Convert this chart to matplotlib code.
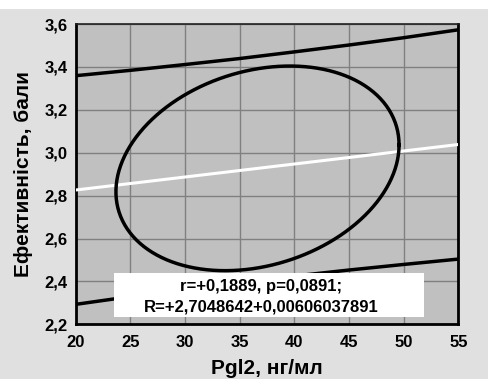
import numpy as np
import matplotlib
matplotlib.use("Agg")
import matplotlib.pyplot as plt
from matplotlib.patches import Rectangle

# Data
x_ticks = [20, 25, 30, 35, 40, 45, 50, 55]
y_ticks = [2.2, 2.4, 2.6, 2.8, 3.0, 3.2, 3.4, 3.6]
intercept = 2.7048642
slope = 0.00606037891
band_x = [20, 25, 30, 35, 40, 45, 50, 55]
band_upper = [3.359, 3.384, 3.411, 3.439, 3.470, 3.502, 3.536, 3.573]
band_lower = [2.293, 2.329, 2.363, 2.395, 2.425, 2.453, 2.479, 2.504]
ell_center = (36.63, 2.927)
ell_half = (12.95, 0.477)
ell_phase = 1.340  # radians, shift between x and y cosine
stats_text = "r=+0,1889, p=0,0891;\nR=+2,7048642+0,00606037891"

plt.rcParams['font.family'] = ['Liberation Sans', 'DejaVu Sans']
plt.rcParams['font.weight'] = 'bold'

W, H = 488, 379
fig = plt.figure(figsize=(W/100, H/100), dpi=100, facecolor='#e0e0e0')
fig.patches.append(Rectangle((0, 1 - 9/H), 1, 9/H, transform=fig.transFigure,
                             facecolor='white', edgecolor='none', zorder=0))
ax = fig.add_axes([75.7/W, 1 - 324.3/H, (458.3-75.7)/W, (324.3-24)/H])
ax.set_facecolor('#c0c0c0')
ax.set_xlim(20, 55)
ax.set_ylim(2.2, 3.6)
ax.set_xticks(x_ticks)
ax.set_yticks(y_ticks)
ax.set_xticklabels([str(v) for v in x_ticks])
ax.set_yticklabels([f"{v:.1f}".replace('.', ',') for v in y_ticks])
ax.tick_params(length=0, labelsize=12)
ax.tick_params(axis='x', pad=8)
ax.tick_params(axis='y', pad=6)
for lab in ax.get_xticklabels() + ax.get_yticklabels():
    lab.set_fontweight('bold')
ax.grid(True, color='#808080', linewidth=1)
ax.set_axisbelow(True)
for s in ['left', 'bottom', 'right']:
    ax.spines[s].set_linewidth(2)
    ax.spines[s].set_color('black')
ax.spines['top'].set_linewidth(1.2)
ax.spines['top'].set_color('#202020')

xs = np.array([20, 55])
ax.plot(xs, intercept + slope * xs, color='white', lw=2.2, zorder=3)
ax.plot(band_x, band_upper, color='black', lw=2.5, zorder=3)
ax.plot(band_x, band_lower, color='black', lw=2.5, zorder=3)

t = np.linspace(0, 2*np.pi, 400)
ex = ell_center[0] + ell_half[0]*np.cos(t)
ey = ell_center[1] + ell_half[1]*np.cos(t + ell_phase)
ax.plot(ex, ey, color='black', lw=2.5, zorder=3)

# text box
bx0, bx1 = 114, 424
by0, by1 = 273, 316.7
ax.add_patch(Rectangle((bx0/W, 1 - by1/H), (bx1-bx0)/W, (by1-by0)/H,
                       transform=fig.transFigure, facecolor='white',
                       edgecolor='none', zorder=5))
fig.text(261/W, 1 - 296.5/H, stats_text, ha='center', va='center',
         fontsize=12, fontweight='bold', linespacing=1.5, zorder=6)

ax.set_xlabel("Pgl2, нг/мл", fontsize=15, fontweight='bold', labelpad=6)
ax.set_ylabel("Ефективність, бали", fontsize=15, fontweight='bold', labelpad=8)

fig.savefig("out.png", dpi=100, facecolor=fig.get_facecolor())
